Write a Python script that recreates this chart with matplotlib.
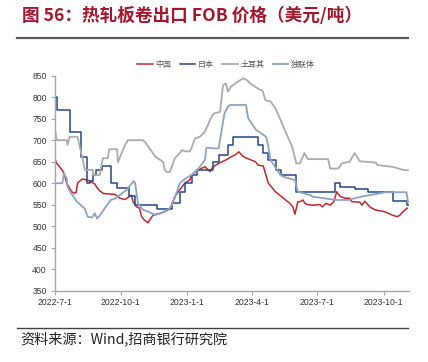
import matplotlib
matplotlib.use("Agg")
import matplotlib.pyplot as plt
from matplotlib.lines import Line2D
import pandas as pd

# 热轧板卷出口 FOB 价格 (美元/吨)
china_dates = ['2022-07-01', '2022-07-04', '2022-07-08', '2022-07-12', '2022-07-14', '2022-07-18',
               '2022-07-22', '2022-07-25', '2022-07-28', '2022-07-31', '2022-08-02', '2022-08-05',
               '2022-08-09', '2022-08-16', '2022-08-20', '2022-08-26', '2022-08-29', '2022-09-02',
               '2022-09-07', '2022-09-23', '2022-09-27', '2022-09-30', '2022-10-07', '2022-10-12',
               '2022-10-16', '2022-10-18', '2022-10-23', '2022-10-27', '2022-10-30', '2022-11-03',
               '2022-11-08', '2022-11-10', '2022-11-15', '2022-11-25', '2022-12-01', '2022-12-08',
               '2022-12-11', '2022-12-15', '2022-12-19', '2022-12-22', '2022-12-29', '2023-01-05',
               '2023-01-08', '2023-01-15', '2023-01-26', '2023-02-02', '2023-02-06', '2023-02-13',
               '2023-02-24', '2023-03-02', '2023-03-09', '2023-03-14', '2023-03-20', '2023-03-25',
               '2023-04-06', '2023-04-10', '2023-04-17', '2023-04-24', '2023-05-04', '2023-05-15',
               '2023-05-24', '2023-05-28', '2023-05-31', '2023-06-04', '2023-06-07', '2023-06-11',
               '2023-06-14', '2023-06-18', '2023-06-25', '2023-07-05', '2023-07-08', '2023-07-13',
               '2023-07-19', '2023-07-24', '2023-07-28', '2023-08-02', '2023-08-09', '2023-08-15',
               '2023-08-18', '2023-08-29', '2023-09-01', '2023-09-05', '2023-09-12', '2023-09-19',
               '2023-10-02', '2023-10-13', '2023-10-20', '2023-10-24', '2023-10-28', '2023-11-03']
china_vals = [660, 646, 638, 630, 623, 600,
              588, 580, 577, 578, 600, 605,
              610, 607, 604, 598, 590, 582,
              576, 574, 569, 565, 562, 568,
              572, 557, 545, 542, 522, 514,
              508, 514, 526, 530, 534, 540,
              550, 568, 578, 585, 600, 608,
              620, 630, 638, 627, 638, 645,
              654, 660, 666, 673, 662, 658,
              650, 642, 640, 600, 580, 565,
              553, 545, 528, 557, 557, 561,
              553, 550, 549, 550, 545, 553,
              549, 557, 580, 569, 565, 565,
              557, 556, 549, 558, 545, 538,
              534, 526, 522, 526, 534, 542]

japan_dates = ['2022-07-01', '2022-07-04', '2022-07-22', '2022-08-07', '2022-08-15', '2022-08-19',
               '2022-08-24', '2022-08-27', '2022-09-05', '2022-09-18', '2022-09-26', '2022-10-12',
               '2022-10-21', '2022-11-20', '2022-12-11', '2022-12-22', '2022-12-29', '2023-01-08',
               '2023-01-15', '2023-02-06', '2023-02-14', '2023-02-27', '2023-03-06', '2023-04-10',
               '2023-04-17', '2023-04-24', '2023-05-05', '2023-05-12', '2023-06-02', '2023-07-26',
               '2023-08-02', '2023-08-22', '2023-09-09', '2023-10-14', '2023-11-02', '2023-11-05']
japan_vals = [800, 770, 720, 660, 600, 605,
              620, 630, 640, 600, 590, 570,
              550, 540, 554, 580, 600, 620,
              630, 650, 666, 690, 708, 690,
              670, 654, 630, 620, 580, 600,
              592, 586, 580, 559, 550, 550]

turkey_dates = ['2022-07-01', '2022-07-04', '2022-07-18', '2022-07-19', '2022-07-22', '2022-08-02',
                '2022-08-05', '2022-08-09', '2022-08-12', '2022-08-23', '2022-08-24', '2022-09-02',
                '2022-09-03', '2022-09-06', '2022-09-13', '2022-09-15', '2022-09-26', '2022-09-27',
                '2022-09-30', '2022-10-07', '2022-10-11', '2022-11-01', '2022-11-05', '2022-11-10',
                '2022-11-18', '2022-11-25', '2022-11-29', '2022-12-01', '2022-12-04', '2022-12-08',
                '2022-12-11', '2022-12-15', '2022-12-22', '2022-12-25', '2022-12-29', '2023-01-05',
                '2023-01-08', '2023-01-12', '2023-01-19', '2023-01-26', '2023-01-30', '2023-02-02',
                '2023-02-07', '2023-02-16', '2023-02-20', '2023-02-24', '2023-02-27', '2023-03-03',
                '2023-03-09', '2023-03-20', '2023-03-25', '2023-03-30', '2023-04-06', '2023-04-13',
                '2023-04-16', '2023-04-20', '2023-04-27', '2023-05-04', '2023-05-11', '2023-05-15',
                '2023-05-20', '2023-05-27', '2023-06-02', '2023-06-07', '2023-06-13', '2023-06-18',
                '2023-07-16', '2023-07-19', '2023-07-30', '2023-08-04', '2023-08-15', '2023-08-22',
                '2023-08-29', '2023-09-20', '2023-09-23', '2023-10-14', '2023-10-28', '2023-11-04']
turkey_vals = [733, 700, 700, 689, 708, 708,
               685, 658, 631, 631, 619, 619,
               631, 658, 658, 679, 679, 649,
               661, 689, 700, 700, 693, 681,
               662, 654, 649, 631, 626, 626,
               638, 658, 670, 677, 674, 674,
               685, 704, 708, 720, 735, 747,
               762, 766, 828, 832, 813, 824,
               832, 844, 840, 832, 824, 817,
               815, 793, 790, 774, 747, 731,
               712, 685, 646, 646, 670, 656,
               656, 634, 634, 646, 650, 670,
               651, 648, 642, 638, 631, 630]

cis_dates = ['2022-07-01', '2022-07-12', '2022-07-14', '2022-07-18', '2022-07-19', '2022-07-24',
             '2022-07-29', '2022-08-01', '2022-08-12', '2022-08-16', '2022-08-22', '2022-08-26',
             '2022-08-29', '2022-09-02', '2022-09-09', '2022-09-17', '2022-09-24', '2022-09-27',
             '2022-10-09', '2022-10-19', '2022-10-21', '2022-10-25', '2022-11-01', '2022-11-08',
             '2022-11-18', '2022-11-25', '2022-12-01', '2022-12-08', '2022-12-11', '2022-12-15',
             '2022-12-22', '2022-12-29', '2023-01-08', '2023-01-15', '2023-01-26', '2023-01-28',
             '2023-02-06', '2023-02-14', '2023-02-22', '2023-02-27', '2023-03-02', '2023-03-24',
             '2023-03-27', '2023-04-07', '2023-04-21', '2023-04-24', '2023-04-27', '2023-05-11',
             '2023-05-15', '2023-05-31', '2023-06-04', '2023-06-22', '2023-06-24', '2023-07-26',
             '2023-08-13', '2023-09-01', '2023-10-04', '2023-11-02', '2023-11-04']
cis_vals = [600, 600, 623, 610, 592, 577,
            565, 557, 541, 522, 520, 530,
            518, 525, 542, 561, 565, 569,
            584, 605, 600, 553, 538, 534,
            526, 530, 534, 541, 550, 565,
            600, 610, 620, 630, 654, 683,
            681, 681, 762, 778, 782, 782,
            751, 724, 708, 685, 654, 619,
            615, 607, 580, 572, 569, 561,
            561, 569, 579, 579, 555]

series_names = ['中国', '日本', '土耳其', '独联体']
tick_dates = ['2022-07-01', '2022-10-01', '2023-01-01', '2023-04-01', '2023-07-01', '2023-10-01']
tick_labels = ['2022-7-1', '2022-10-1', '2023-1-1', '2023-4-1', '2023-7-1', '2023-10-1']
y_ticks = [350, 400, 450, 500, 550, 600, 650, 700, 750, 800, 850]

CJK = ['Noto Sans CJK SC', 'DejaVu Sans']
W, H = 428, 362

fig = plt.figure(figsize=(W / 100, H / 100), dpi=100)
ax = fig.add_axes([54.5 / W, 1 - 290.7 / H, (408.7 - 54.5) / W, (290.7 - 75.7) / H])

ax.plot(pd.to_datetime(china_dates), china_vals, color='#C0282E', lw=1.1, label=series_names[0])
ax.plot(pd.to_datetime(japan_dates), japan_vals, color='#24478A', lw=1.1,
        drawstyle='steps-post', label=series_names[1])
ax.plot(pd.to_datetime(turkey_dates), turkey_vals, color='#ABABAB', lw=1.3, label=series_names[2])
ax.plot(pd.to_datetime(cis_dates), cis_vals, color='#8EA2C4', lw=1.3, label=series_names[3])

ax.set_xlim(pd.Timestamp('2022-07-01'), pd.Timestamp('2023-11-05'))
ax.set_ylim(350, 850)
ax.set_yticks(y_ticks)
ax.set_xticks(pd.to_datetime(tick_dates))
ax.set_xticklabels(tick_labels)

for s in ['top', 'right']:
    ax.spines[s].set_visible(False)
for s in ['left', 'bottom']:
    ax.spines[s].set_color('#A6A6A6')
    ax.spines[s].set_linewidth(1.0)
ax.tick_params(axis='both', colors='#A6A6A6', labelcolor='#333333', labelsize=6.2,
               length=3, width=0.8, direction='out', pad=2.5)
for lbl in ax.get_xticklabels() + ax.get_yticklabels():
    lbl.set_family('Liberation Sans')

leg = ax.legend(loc='center', bbox_to_anchor=(226 / W, 1 - 64 / H), bbox_transform=fig.transFigure,
                ncol=4, frameon=False, handlelength=1.9, handletextpad=0.3, columnspacing=1.1,
                prop={'family': CJK, 'size': 5.8})
for t in leg.get_texts():
    t.set_color('#555555')

fig.text(22 / W, 1 - 16 / H, '图 56：热轧板卷出口 FOB 价格（美元/吨）', fontsize=12.7,
         fontweight='bold', color='#A3162B', va='center', ha='left', family=CJK)
fig.add_artist(Line2D([17 / W, 408 / W], [1 - 37.7 / H, 1 - 37.7 / H], color='#595959', lw=1.6))
fig.add_artist(Line2D([17 / W, 408 / W], [1 - 328 / H, 1 - 328 / H], color='#404040', lw=1.0))
fig.text(20 / W, 1 - 339 / H, '资料来源：Wind,招商银行研究院', fontsize=10.2, color='#222222',
         va='center', ha='left', family=CJK)

fig.savefig('out.png', dpi=100)
